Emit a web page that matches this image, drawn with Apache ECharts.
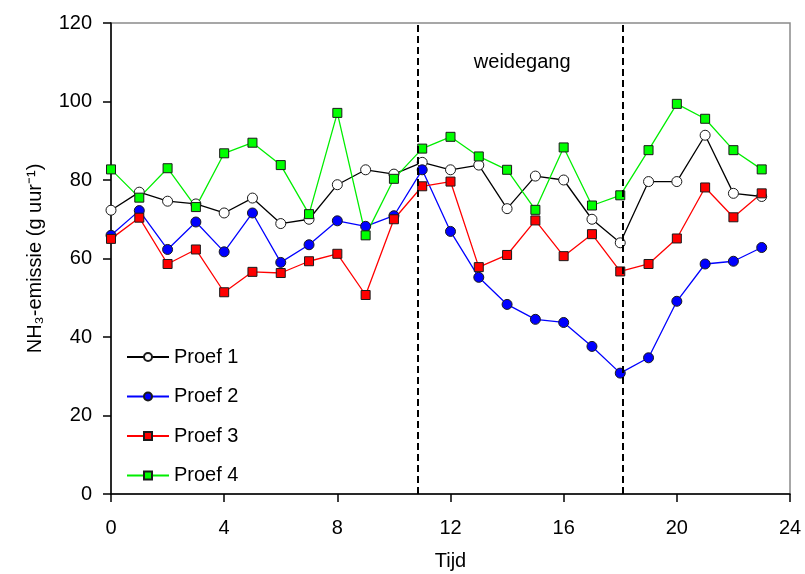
<!DOCTYPE html>
<html>
<head>
<meta charset="utf-8">
<script src="https://cdn.jsdelivr.net/npm/echarts@6/dist/echarts.min.js"></script>
<style>html,body{margin:0;padding:0;background:#fff}#c{width:805px;height:574px}</style>
</head>
<body>
<div id="c"></div>
<script>
const hours = [0,1,2,3,4,5,6,7,8,9,10,11,12,13,14,15,16,17,18,19,20,21,22,23];
const proef1 = [72.3,76.9,74.6,73.9,71.6,75.4,68.9,70.0,78.8,82.6,81.5,84.5,82.6,83.8,72.7,81.0,80.0,70.0,64.0,79.6,79.6,91.4,76.6,75.8];
const proef2 = [65.9,72.2,62.3,69.3,61.7,71.6,59.0,63.5,69.6,68.2,70.9,82.6,66.9,55.2,48.3,44.5,43.7,37.6,30.8,34.7,49.1,58.6,59.3,62.8];
const proef3 = [65.0,70.4,58.6,62.3,51.4,56.6,56.3,59.3,61.2,50.7,70.0,78.4,79.6,57.8,60.9,69.7,60.6,66.2,56.7,58.6,65.1,78.1,70.5,76.6];
const proef4 = [82.7,75.5,83.0,73.1,86.8,89.5,83.8,71.3,97.1,65.9,80.3,88.0,91.0,86.0,82.6,72.4,88.3,73.5,76.1,87.6,99.4,95.6,87.6,82.7];
const grazingStart = 10.83;
const grazingEnd = 18.1;
const grazingLabel = 'weidegang';
const seriesNames = ['Proef 1','Proef 2','Proef 3','Proef 4'];

const font = 'Liberation Sans, Arial, sans-serif';
const chart = echarts.init(document.getElementById('c'));
function pairs(arr){ return hours.map((h,i)=>[h,arr[i]]); }
function mk(name, data, color, fill, symbol, size){
  return {
    name, type:'line', data: pairs(data), symbol, symbolSize:size,
    lineStyle:{color, width:1.3},
    itemStyle:{color:fill, borderColor:'#1a1a1a', borderWidth:1},
    emphasis:{disabled:true}, animation:false
  };
}
const series = [
  mk(seriesNames[0], proef1, '#000000', '#ffffff', 'circle', 10),
  mk(seriesNames[1], proef2, '#0000ff', '#0000ff', 'circle', 10),
  mk(seriesNames[2], proef3, '#ff0000', '#ff0000', 'rect', 9),
  mk(seriesNames[3], proef4, '#00ee00', '#00ff00', 'rect', 9)
];
series[0].markLine = {
  silent:true, symbol:'none', animation:false,
  lineStyle:{color:'#000', type:[7,4], width:2},
  label:{show:false},
  data:[{xAxis:grazingStart},{xAxis:grazingEnd}]
};
chart.setOption({
  animation:false,
  backgroundColor:'#fff',
  grid:{left:111, right:15, top:23, bottom:80, containLabel:false, outerBoundsMode:'none',
        show:true, borderColor:'#8a8a8a', borderWidth:1.5},
  legend:{
    orient:'vertical', left:121, top:342, itemGap:19.5, itemWidth:42, itemHeight:10,
    data:seriesNames,
    textStyle:{fontSize:20, color:'#000', fontFamily:font, padding:[0,0,0,0]}
  },
  xAxis:{
    type:'value', min:0, max:24, interval:4,
    name:'Tijd', nameLocation:'middle', nameGap:57,
    nameTextStyle:{fontSize:20, color:'#000', fontFamily:font},
    axisLine:{show:true, lineStyle:{color:'#000', width:1.5}},
    axisTick:{show:true, inside:false, length:8, lineStyle:{color:'#000', width:1.5}},
    axisLabel:{fontSize:20, color:'#000', fontFamily:font, margin:24},
    splitLine:{show:false}
  },
  yAxis:{
    type:'value', min:0, max:120, interval:20,
    name:'NH\u2083-emissie (g uur\u207B\u00B9)', nameLocation:'middle', nameGap:66, nameRotate:90,
    nameTextStyle:{fontSize:20, color:'#000', fontFamily:font},
    axisLine:{show:true, lineStyle:{color:'#000', width:1.5}},
    axisTick:{show:true, inside:false, length:8, lineStyle:{color:'#000', width:1.5}},
    axisLabel:{fontSize:20, color:'#000', fontFamily:font, margin:19},
    splitLine:{show:false}
  },
  series
});
const p1 = chart.convertToPixel({gridIndex:0}, [grazingStart, 110]);
const p2 = chart.convertToPixel({gridIndex:0}, [grazingEnd, 110]);
chart.setOption({
  graphic:[{
    type:'text', x:(p1[0]+p2[0])/2 + 2, y:p1[1],
    style:{text:grazingLabel, fontSize:20, fontFamily:font, fill:'#000', textAlign:'center', textVerticalAlign:'middle'}
  }]
});
</script>
</body>
</html>
